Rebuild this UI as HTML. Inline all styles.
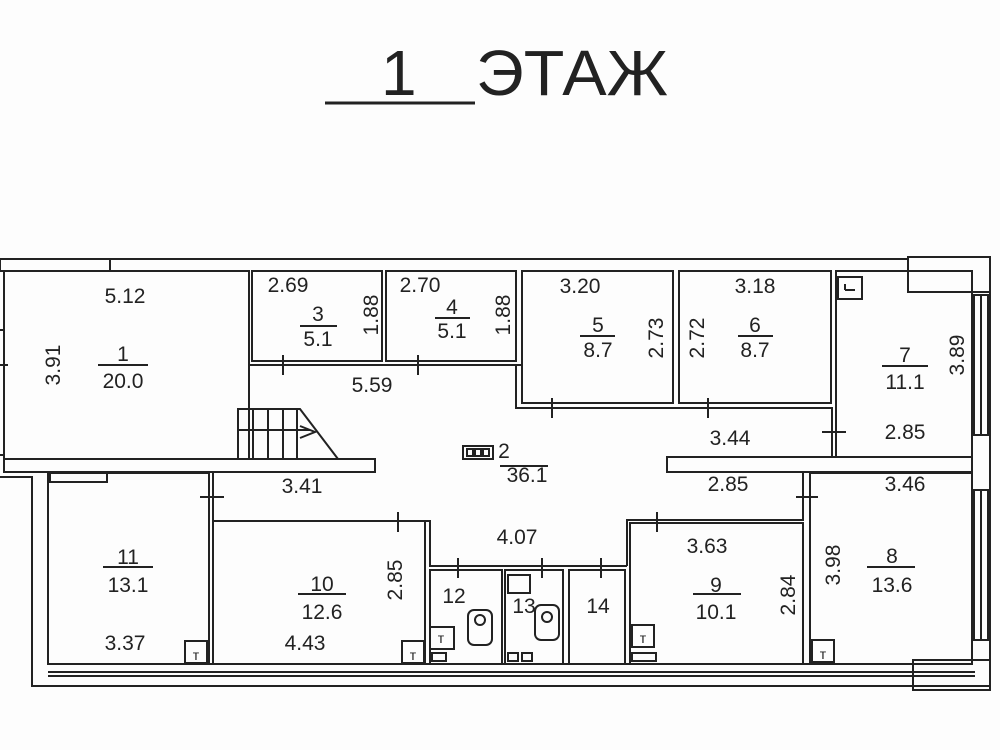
<!DOCTYPE html>
<html><head><meta charset="utf-8"><style>
html,body{margin:0;padding:0;background:#fff;}
svg{display:block;}
text{font-family:"Liberation Sans",sans-serif;fill:#222;}
</style></head><body>
<svg width="1000" height="750" viewBox="0 0 1000 750" xmlns="http://www.w3.org/2000/svg">
<rect width="1000" height="750" fill="#fdfdfd"/>
<!-- title -->
<text x="381" y="95" font-size="64">1</text>
<line x1="325" y1="103" x2="475" y2="103" stroke="#222" stroke-width="3"/>
<text x="476" y="95" font-size="64" textLength="192" lengthAdjust="spacingAndGlyphs">ЭТАЖ</text>

<g fill="none" stroke="#222" stroke-width="2">
<polyline points="0,259 908,259"/>
<rect x="0" y="259" width="110" height="12"/>
<rect x="908" y="257" width="82" height="35" />
<line x1="990" y1="257" x2="990" y2="690"/>
<rect x="4" y="271" width="245" height="188"/>
<line x1="0" y1="330" x2="4" y2="330"/><line x1="0" y1="455" x2="4" y2="455"/>
<line x1="0" y1="365" x2="8" y2="365"/>
<line x1="249" y1="361" x2="249" y2="400" stroke-dasharray="6,4"/>
<rect x="252" y="271" width="130" height="90"/>
<rect x="386" y="271" width="130" height="90"/>
<line x1="249" y1="365" x2="522" y2="365"/>
<line x1="283" y1="355" x2="283" y2="375"/><line x1="418" y1="355" x2="418" y2="375"/>
<rect x="522" y="271" width="151" height="132"/>
<rect x="679" y="271" width="152" height="132"/>
<polyline points="516,365 516,408 832,408 832,457"/>
<line x1="552" y1="398" x2="552" y2="418"/><line x1="708" y1="398" x2="708" y2="418"/>
<rect x="836" y="271" width="136" height="186"/>
<rect x="838" y="277" width="24" height="22"/>
<line x1="845" y1="290" x2="855" y2="290"/><line x1="845" y1="284" x2="845" y2="290"/>
<rect x="974" y="295" width="14" height="140"/>
<line x1="981" y1="295" x2="981" y2="435"/>
<line x1="822" y1="432" x2="846" y2="432"/>
<rect x="4" y="459" width="371" height="13"/>
<rect x="667" y="457" width="305" height="15"/>
<polyline points="238,459 238,409 300,409 338,459"/>
<line x1="238" y1="430" x2="310" y2="430"/>
<line x1="253" y1="409" x2="253" y2="459"/><line x1="268" y1="409" x2="268" y2="459"/><line x1="283" y1="409" x2="283" y2="459"/><line x1="297" y1="409" x2="297" y2="459"/>
<polyline points="300,426 315,432 300,438"/>
<polyline points="0,477 32,477 32,686 45,686"/>
<rect x="48" y="473" width="161" height="191"/>
<rect x="50" y="473" width="57" height="9"/>
<line x1="209" y1="472" x2="209" y2="521"/><line x1="213" y1="472" x2="213" y2="521"/>
<line x1="200" y1="497" x2="224" y2="497"/>
<rect x="213" y="521" width="212" height="143"/>
<line x1="398" y1="512" x2="398" y2="532"/>
<polyline points="425,521 430,521 430,566 627,566"/>
<line x1="458" y1="558" x2="458" y2="578"/><line x1="542" y1="558" x2="542" y2="578"/><line x1="601" y1="558" x2="601" y2="578"/>
<rect x="430" y="570" width="72" height="94"/>
<rect x="505" y="570" width="58" height="94"/>
<rect x="569" y="570" width="56" height="94"/>
<rect x="468" y="610" width="24" height="35" rx="6"/><circle cx="480" cy="620" r="5"/>
<rect x="535" y="605" width="24" height="35" rx="6"/><circle cx="547" cy="617" r="5"/>
<rect x="430" y="627" width="24" height="22"/>
<rect x="508" y="575" width="22" height="18"/>
<rect x="432" y="653" width="14" height="8"/>
<rect x="508" y="653" width="10" height="8"/><rect x="522" y="653" width="10" height="8"/>
<rect x="630" y="523" width="173" height="141"/>
<polyline points="627,566 627,520 803,520 803,473"/>
<line x1="657" y1="512" x2="657" y2="532"/>
<line x1="796" y1="497" x2="818" y2="497"/>
<rect x="632" y="625" width="22" height="22"/>
<rect x="632" y="653" width="24" height="8"/>
<rect x="810" y="473" width="162" height="191"/>
<rect x="812" y="640" width="22" height="22"/>
<rect x="185" y="641" width="22" height="22"/>
<rect x="402" y="641" width="22" height="22"/>
<rect x="974" y="490" width="14" height="150"/>
<line x1="981" y1="490" x2="981" y2="640"/>
<rect x="913" y="660" width="77" height="30"/>
<line x1="48" y1="664" x2="972" y2="664"/>
<line x1="48" y1="672" x2="975" y2="672"/>
<line x1="48" y1="676" x2="975" y2="676"/>
<line x1="45" y1="686" x2="990" y2="686"/>
<rect x="463" y="446" width="30" height="13"/>
<rect x="467" y="449" width="6" height="7"/><rect x="475" y="449" width="6" height="7"/><rect x="483" y="449" width="6" height="7"/>
</g>
<g font-size="14" text-anchor="middle">
<text x="196" y="660">т</text><text x="413" y="660">т</text><text x="441" y="643">т</text><text x="643" y="643">т</text><text x="823" y="659">т</text>
</g>
<g font-size="21" text-anchor="middle">
<text x="125" y="303">5.12</text>
<text x="123" y="361">1</text><text x="123" y="388">20.0</text>
<line x1="98" y1="365" x2="148" y2="365" stroke="#222" stroke-width="2"/>
<text x="288" y="292">2.69</text>
<text x="318" y="321">3</text><text x="318" y="346">5.1</text>
<line x1="300" y1="326" x2="337" y2="326" stroke="#222" stroke-width="2"/>
<text x="420" y="292">2.70</text>
<text x="452" y="314">4</text><text x="452" y="338">5.1</text>
<line x1="435" y1="318" x2="470" y2="318" stroke="#222" stroke-width="2"/>
<text x="372" y="392">5.59</text>
<text x="580" y="293">3.20</text>
<text x="598" y="332">5</text><text x="598" y="357">8.7</text>
<line x1="580" y1="336" x2="615" y2="336" stroke="#222" stroke-width="2"/>
<text x="755" y="293">3.18</text>
<text x="755" y="332">6</text><text x="755" y="357">8.7</text>
<line x1="738" y1="336" x2="773" y2="336" stroke="#222" stroke-width="2"/>
<text x="905" y="362">7</text><text x="905" y="389">11.1</text>
<line x1="882" y1="366" x2="928" y2="366" stroke="#222" stroke-width="2"/>
<text x="905" y="439">2.85</text>
<text x="730" y="445">3.44</text>
<text x="504" y="458">2</text><text x="527" y="482">36.1</text>
<line x1="500" y1="466" x2="548" y2="466" stroke="#222" stroke-width="2"/>
<text x="302" y="493">3.41</text>
<text x="728" y="491">2.85</text>
<text x="905" y="491">3.46</text>
<text x="517" y="544">4.07</text>
<text x="707" y="553">3.63</text>
<text x="716" y="592">9</text><text x="716" y="619">10.1</text>
<line x1="693" y1="594" x2="741" y2="594" stroke="#222" stroke-width="2"/>
<text x="892" y="563">8</text><text x="892" y="592">13.6</text>
<line x1="867" y1="567" x2="915" y2="567" stroke="#222" stroke-width="2"/>
<text x="128" y="564">11</text><text x="128" y="592">13.1</text>
<line x1="103" y1="567" x2="153" y2="567" stroke="#222" stroke-width="2"/>
<text x="322" y="591">10</text><text x="322" y="619">12.6</text>
<line x1="298" y1="594" x2="346" y2="594" stroke="#222" stroke-width="2"/>
<text x="125" y="650">3.37</text>
<text x="305" y="650">4.43</text>
<text x="454" y="603">12</text>
<text x="524" y="613">13</text>
<text x="598" y="613">14</text>
</g>
<g font-size="21" text-anchor="middle">
<text transform="translate(60,365) rotate(-90)">3.91</text>
<text transform="translate(378,315) rotate(-90)">1.88</text>
<text transform="translate(510,315) rotate(-90)">1.88</text>
<text transform="translate(663,338) rotate(-90)">2.73</text>
<text transform="translate(704,338) rotate(-90)">2.72</text>
<text transform="translate(964,355) rotate(-90)">3.89</text>
<text transform="translate(402,580) rotate(-90)">2.85</text>
<text transform="translate(795,595) rotate(-90)">2.84</text>
<text transform="translate(840,565) rotate(-90)">3.98</text>
</g>
</svg>
</body></html>
